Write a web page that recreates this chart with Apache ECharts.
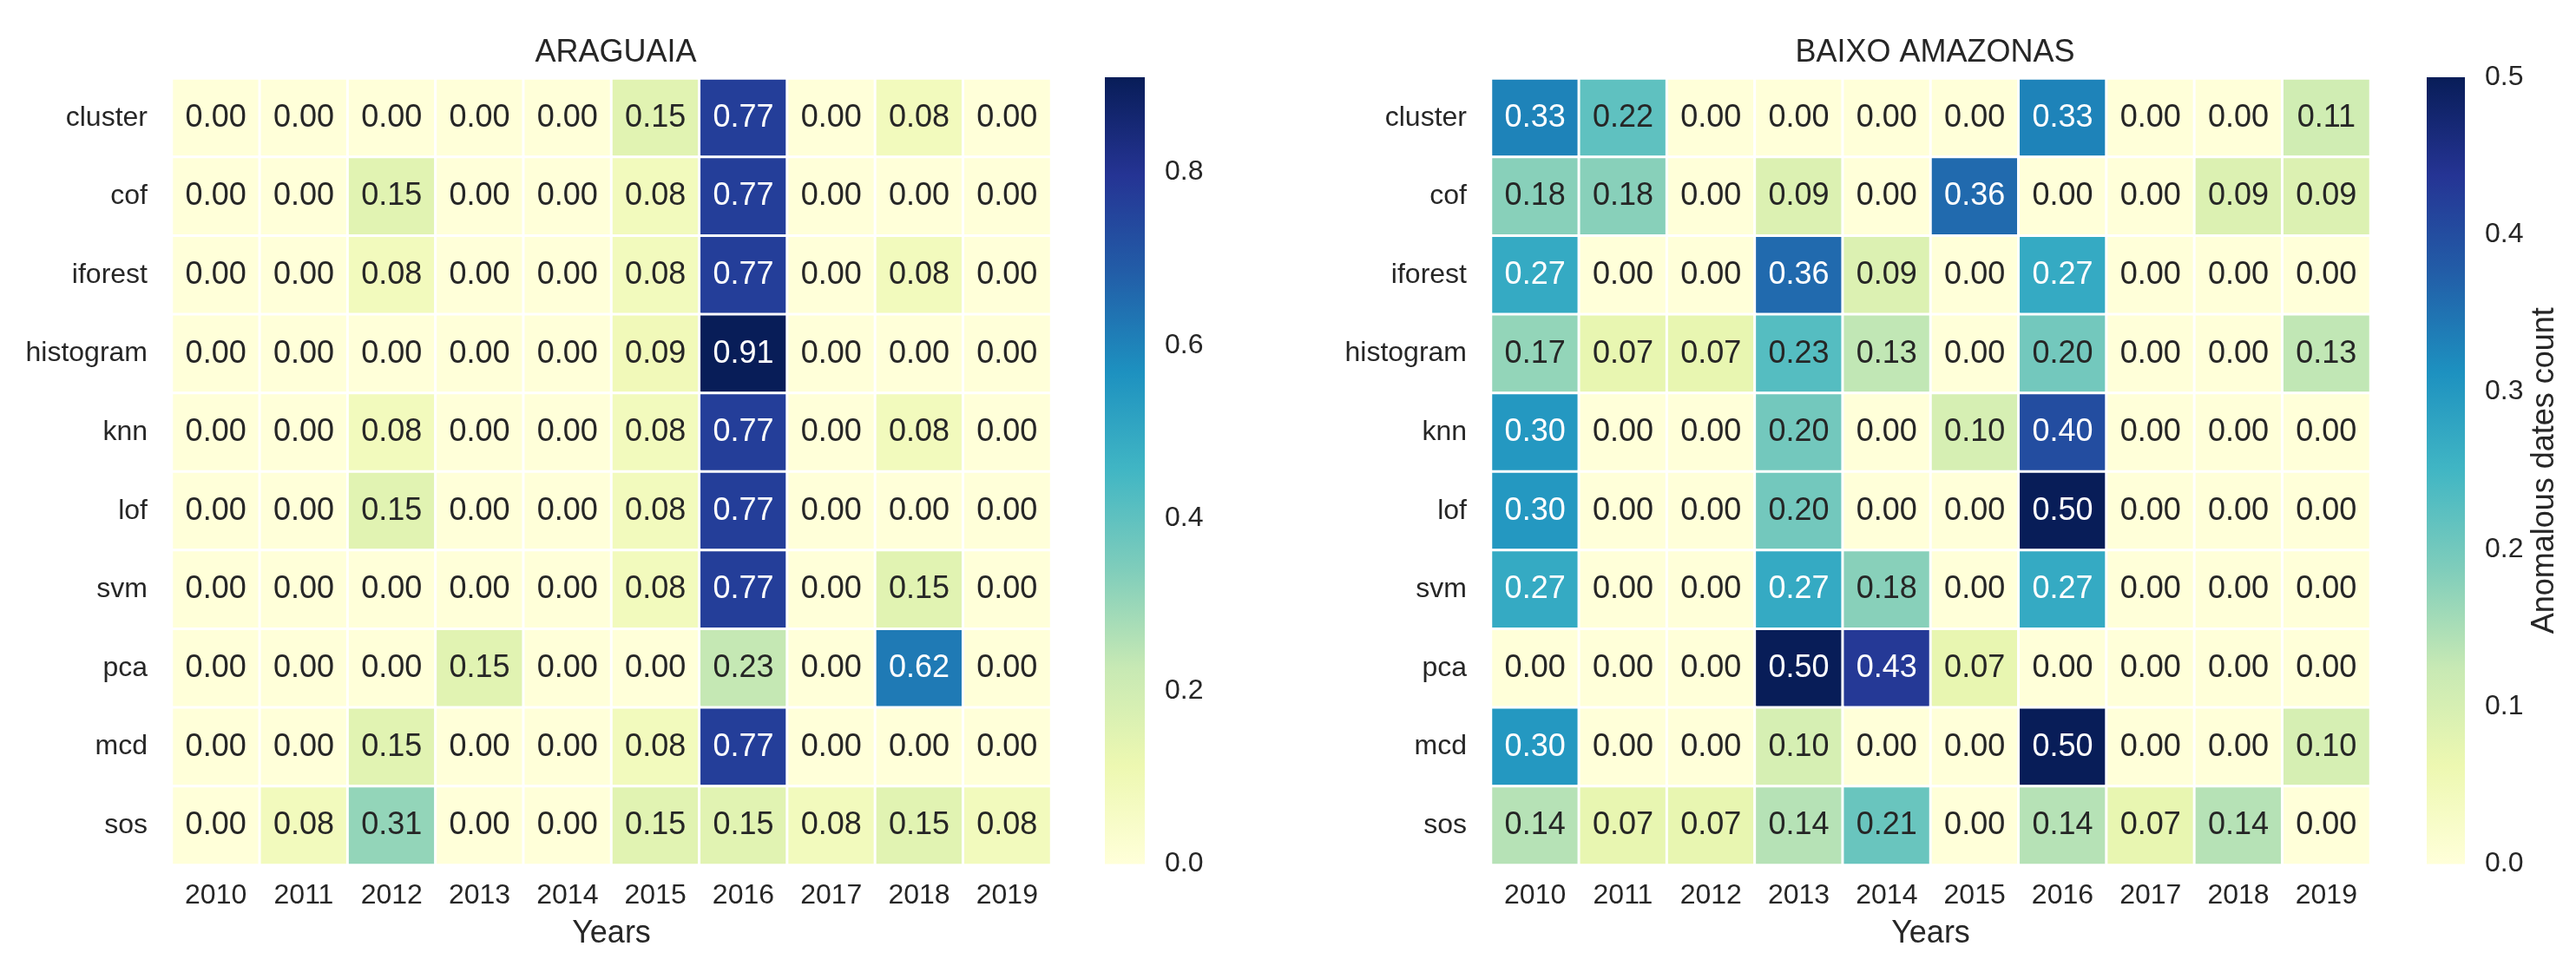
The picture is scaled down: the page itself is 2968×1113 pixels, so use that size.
<!DOCTYPE html>
<html>
<head>
<meta charset="utf-8">
<script src="https://cdn.jsdelivr.net/npm/echarts@6/dist/echarts.min.js"></script>
<style>
html,body{margin:0;padding:0;background:#ffffff;}
#chart{width:2968px;height:1113px;}
</style>
</head>
<body>
<div id="chart"></div>
<script>
// ---------- data ----------
const years = ['2010','2011','2012','2013','2014','2015','2016','2017','2018','2019'];
const methods = ['cluster','cof','iforest','histogram','knn','lof','svm','pca','mcd','sos'];

const araguaia = [
  [0.00,0.00,0.00,0.00,0.00,0.15,0.77,0.00,0.08,0.00],
  [0.00,0.00,0.15,0.00,0.00,0.08,0.77,0.00,0.00,0.00],
  [0.00,0.00,0.08,0.00,0.00,0.08,0.77,0.00,0.08,0.00],
  [0.00,0.00,0.00,0.00,0.00,0.09,0.91,0.00,0.00,0.00],
  [0.00,0.00,0.08,0.00,0.00,0.08,0.77,0.00,0.08,0.00],
  [0.00,0.00,0.15,0.00,0.00,0.08,0.77,0.00,0.00,0.00],
  [0.00,0.00,0.00,0.00,0.00,0.08,0.77,0.00,0.15,0.00],
  [0.00,0.00,0.00,0.15,0.00,0.00,0.23,0.00,0.62,0.00],
  [0.00,0.00,0.15,0.00,0.00,0.08,0.77,0.00,0.00,0.00],
  [0.00,0.08,0.31,0.00,0.00,0.15,0.15,0.08,0.15,0.08]
];

const baixoAmazonas = [
  [0.33,0.22,0.00,0.00,0.00,0.00,0.33,0.00,0.00,0.11],
  [0.18,0.18,0.00,0.09,0.00,0.36,0.00,0.00,0.09,0.09],
  [0.27,0.00,0.00,0.36,0.09,0.00,0.27,0.00,0.00,0.00],
  [0.17,0.07,0.07,0.23,0.13,0.00,0.20,0.00,0.00,0.13],
  [0.30,0.00,0.00,0.20,0.00,0.10,0.40,0.00,0.00,0.00],
  [0.30,0.00,0.00,0.20,0.00,0.00,0.50,0.00,0.00,0.00],
  [0.27,0.00,0.00,0.27,0.18,0.00,0.27,0.00,0.00,0.00],
  [0.00,0.00,0.00,0.50,0.43,0.07,0.00,0.00,0.00,0.00],
  [0.30,0.00,0.00,0.10,0.00,0.00,0.50,0.00,0.00,0.10],
  [0.14,0.07,0.07,0.14,0.21,0.00,0.14,0.07,0.14,0.00]
];

const araguaiaMax = 0.91;
const baixoMax = 0.5;
const araguaiaTicks = [0.0,0.2,0.4,0.6,0.8];
const baixoTicks = [0.0,0.1,0.2,0.3,0.4,0.5];
const panelTitles = ['ARAGUAIA','BAIXO AMAZONAS'];
const xAxisName = 'Years';
const colorbarName = 'Anomalous dates count';

// ---------- styling ----------
const FONT = '"Liberation Sans", Arial, sans-serif';
const TXT = '#262626';
const ylgnbu = ['#ffffd9','#edf8b1','#c7e9b4','#7fcdbb','#41b6c4','#1d91c0','#225ea8','#253494','#081d58'];

function hexToRgb(h){return [parseInt(h.slice(1,3),16),parseInt(h.slice(3,5),16),parseInt(h.slice(5,7),16)];}
function cmap(t){
  t = Math.max(0, Math.min(1, t));
  const n = ylgnbu.length - 1;
  const p = t * n;
  const i = Math.min(Math.floor(p), n - 1);
  const f = p - i;
  const a = hexToRgb(ylgnbu[i]), b = hexToRgb(ylgnbu[i+1]);
  return a.map((v,k)=>v + (b[k]-v)*f);
}
function luminance(rgb){
  const c = rgb.map(v=>{v/=255; return v <= 0.03928 ? v/12.92 : Math.pow((v+0.055)/1.055, 2.4);});
  return 0.2126*c[0] + 0.7152*c[1] + 0.0722*c[2];
}
function buildData(matrix, vmax){
  const out = [];
  matrix.forEach((row, yi)=>{
    row.forEach((v, xi)=>{
      const lum = luminance(cmap(v / vmax));
      out.push({value:[xi, yi, v], label:{color: lum > 0.408 ? TXT : '#ffffff'}});
    });
  });
  return out;
}
function tickFormatter(ticks){
  return v => ticks.some(t => Math.abs(t - v) < 1e-9) ? v.toFixed(1) : '';
}
function gradient(){
  return {type:'linear', x:0, y:1, x2:0, y2:0,
    colorStops: ylgnbu.map((c,i)=>({offset:i/(ylgnbu.length-1), color:c}))};
}

const panels = [
  {title: panelTitles[0], data: araguaia, vmax: araguaiaMax, ticks: araguaiaTicks, heatLeft: 198, cbLeft: 1273, cbWidth: 46, cbName: ''},
  {title: panelTitles[1], data: baixoAmazonas, vmax: baixoMax, ticks: baixoTicks, heatLeft: 1718, cbLeft: 2796, cbWidth: 44, cbName: colorbarName}
];
const HEAT_W = 1013, TOP = 90.5, HEIGHT = 906;

const option = {
  backgroundColor: '#ffffff',
  animation: false,
  title: panels.map(p => ({
    text: p.title, left: p.heatLeft + HEAT_W/2, top: 38, textAlign: 'center',
    textStyle: {fontFamily: FONT, fontSize: 36, fontWeight: 'normal', color: TXT}
  })),
  grid: [],
  xAxis: [],
  yAxis: [],
  visualMap: [],
  series: []
};

panels.forEach((p, k) => {
  const gHeat = option.grid.length;
  option.grid.push({left: p.heatLeft, top: TOP, width: HEAT_W, height: HEIGHT, containLabel: false});
  option.grid.push({left: p.cbLeft, top: TOP - 1.5, width: p.cbWidth, height: HEIGHT + 0.5, containLabel: false});
  const gCb = gHeat + 1;

  option.xAxis.push({
    type: 'category', gridIndex: gHeat, data: years, position: 'bottom',
    axisLine: {show: false}, axisTick: {show: false}, splitLine: {show: false},
    axisLabel: {fontFamily: FONT, fontSize: 32, color: TXT, margin: 20},
    name: xAxisName, nameLocation: 'middle', nameGap: 62,
    nameTextStyle: {fontFamily: FONT, fontSize: 36, color: TXT}
  });
  option.yAxis.push({
    type: 'category', gridIndex: gHeat, data: methods, inverse: true,
    axisLine: {show: false}, axisTick: {show: false}, splitLine: {show: false},
    axisLabel: {fontFamily: FONT, fontSize: 32, color: TXT, margin: 28}
  });

  option.xAxis.push({
    type: 'category', gridIndex: gCb, data: ['cb'], show: false
  });
  option.yAxis.push({
    type: 'value', gridIndex: gCb, min: 0, max: p.vmax, position: 'right',
    interval: p.ticks[1] - p.ticks[0],
    axisLine: {show: false}, axisTick: {show: false}, splitLine: {show: false},
    axisLabel: {fontFamily: FONT, fontSize: 32, color: TXT, margin: 23,
      formatter: tickFormatter(p.ticks), showMaxLabel: true},
    name: p.cbName, nameLocation: 'middle', nameRotate: 90, nameGap: 74,
    nameTextStyle: {fontFamily: FONT, fontSize: 36, color: TXT}
  });

  const sHeat = option.series.length;
  option.series.push({
    type: 'heatmap', xAxisIndex: gHeat, yAxisIndex: gHeat,
    data: buildData(p.data, p.vmax),
    itemStyle: {borderColor: '#ffffff', borderWidth: 3},
    label: {show: true, fontFamily: FONT, fontSize: 36,
      formatter: q => q.value[2].toFixed(2)},
    emphasis: {disabled: true}
  });
  option.series.push({
    type: 'bar', xAxisIndex: gCb, yAxisIndex: gCb,
    data: [p.vmax], barWidth: '100%', barCategoryGap: '0%',
    itemStyle: {color: gradient()}, silent: true
  });
  option.visualMap.push({
    type: 'continuous', show: false, seriesIndex: sHeat, dimension: 2,
    min: 0, max: p.vmax, inRange: {color: ylgnbu}
  });
});

const chart = echarts.init(document.getElementById('chart'), null, {renderer: 'canvas'});
chart.setOption(option);
</script>
</body>
</html>
